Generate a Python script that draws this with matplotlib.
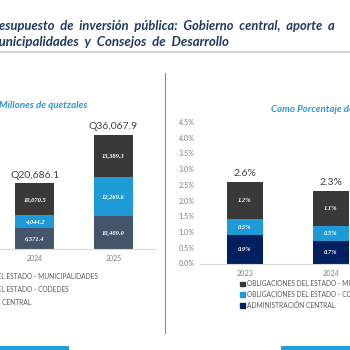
import matplotlib
matplotlib.use('Agg')
import matplotlib.pyplot as plt
from matplotlib.patches import Rectangle, Patch
from matplotlib.lines import Line2D

plt.rcParams['font.family'] = ['Lato', 'DejaVu Sans']

# data
years_q = ['2024', '2025']
admin_q = [6571.4, 10409.0]
codedes_q = [4044.2, 12269.6]
muni_q = [10070.5, 13389.3]

years_pct = ['2023', '2024']
admin_pct = [0.9, 0.7]
codedes_pct = [0.5, 0.5]
muni_pct = [1.2, 1.1]

labels = ['OBLIGACIONES DEL ESTADO - MUNICIPALIDADES',
          'OBLIGACIONES DEL ESTADO - CODEDES',
          'ADMINISTRACIÓN CENTRAL']

c_muni = '#3B3838'
c_codedes = '#1E9BD7'
c_admin_q = '#44546A'
c_admin_pct = '#002060'
title_col = '#203864'
sub_col = '#2E95D3'
gray_txt = '#7F7F7F'

W = H = 350.0


def fx(px):
    return px / W


def fy(py):
    return (H - py) / H


fig = plt.figure(figsize=(3.5, 3.5), dpi=100)

# title + separator
fig.text(fx(-13), fy(25.5), 'Presupuesto  de  inversión  pública:  Gobierno  central,  aporte  a',
         fontsize=9.25, fontweight='bold', fontstyle='italic', color=title_col, va='center')
fig.text(fx(-13), fy(42), 'Municipalidades  y  Consejos  de  Desarrollo',
         fontsize=9.5, fontweight='bold', fontstyle='italic', color=title_col, va='center')
fig.add_artist(Line2D([0, 1], [fy(52), fy(52)], color='#C8C8C8', lw=1.2))

# divider and footer bars
fig.add_artist(Line2D([fx(165), fx(165)], [fy(73), fy(333)], color='#8C8C8C', lw=0.8))
fig.add_artist(Rectangle((fx(0), 0), fx(69), 4 / H, color='#1EA0DC', lw=0))
fig.add_artist(Rectangle((fx(281), 0), fx(69), 4 / H, color='#1EA0DC', lw=0))


def stacked(ax, x, admin, codedes, muni, c_admin, width, fmt):
    b1 = ax.bar(x, admin, width, color=c_admin)
    b2 = ax.bar(x, codedes, width, bottom=admin, color=c_codedes)
    bot = [a + c for a, c in zip(admin, codedes)]
    b3 = ax.bar(x, muni, width, bottom=bot, color=c_muni)
    for bars, vals, bots in [(b1, admin, [0] * len(admin)), (b2, codedes, admin), (b3, muni, bot)]:
        for b, v, s in zip(bars, vals, bots):
            ax.text(b.get_x() + b.get_width() / 2, s + v / 2, fmt(v), ha='center', va='center',
                    color='white', fontsize=4.7, fontweight='bold', fontstyle='italic',
                    family='Liberation Serif')
    return b1, b2, b3


# left panel: millions of quetzales
ax1 = fig.add_axes([fx(-40), fy(248.5), fx(195), 126 / H])
x = range(len(years_q))
stacked(ax1, x, admin_q, codedes_q, muni_q, c_admin_q, 0.497, lambda v: f'{v:,.1f}')
tot_q = [a + c + m for a, c, m in zip(admin_q, codedes_q, muni_q)]
for i, t in enumerate(tot_q):
    ax1.annotate(f'Q{t:,.1f}', (i, t), xytext=(0, 2.5), textcoords='offset points',
                 ha='center', va='bottom', fontsize=7.5, color='#404040')
ax1.set_xlim(-0.955, 1.529)
ax1.set_ylim(0, 40000)
ax1.set_xticks(list(x), years_q)
ax1.set_yticks([])
for s in ['top', 'right', 'left']:
    ax1.spines[s].set_visible(False)
ax1.spines['bottom'].set_color('#D9D9D9')
ax1.tick_params(axis='x', length=0, labelsize=5, colors=gray_txt, pad=5)
ax1.patch.set_alpha(0)
fig.text(fx(87), fy(106), 'Millones de quetzales', ha='right', va='center', fontsize=7,
         fontweight='bold', fontstyle='italic', color=sub_col)

# right panel: percentage
ax2 = fig.add_axes([fx(200), fy(263.5), fx(220), 141.5 / H])
x2 = range(len(years_pct))
stacked(ax2, x2, admin_pct, codedes_pct, muni_pct, c_admin_pct, 0.419, lambda v: f'{v:.1f}%')
tot_p = [a + c + m for a, c, m in zip(admin_pct, codedes_pct, muni_pct)]
for i, t in enumerate(tot_p):
    ax2.annotate(f'{t:.1f}%', (i, t), xytext=(0, 3), textcoords='offset points',
                 ha='center', va='bottom', fontsize=7.5, color='#404040')
ax2.set_xlim(-0.523, 2.035)
ax2.set_ylim(0, 4.5)
ax2.set_xticks(list(x2), years_pct)
ax2.set_yticks([i * 0.5 for i in range(10)], [f'{i * 0.5:.1f}%' for i in range(10)])
for s in ['top', 'right', 'left']:
    ax2.spines[s].set_visible(False)
ax2.spines['bottom'].set_color('#D9D9D9')
ax2.tick_params(axis='both', length=0, labelsize=5.2, colors=gray_txt)
ax2.tick_params(axis='y', pad=4)
ax2.tick_params(axis='x', pad=5)
ax2.patch.set_alpha(0)
fig.text(fx(271), fy(109), 'Como Porcentaje del PIB', ha='left', va='center', fontsize=7,
         fontweight='bold', fontstyle='italic', color=sub_col)

# legends
h_q = [Patch(color=c_muni), Patch(color=c_codedes), Patch(color=c_admin_q)]
h_p = [Patch(color=c_muni), Patch(color=c_codedes), Patch(color=c_admin_pct)]
fig.legend(h_q, labels, loc='upper left', bbox_to_anchor=(fx(-67), fy(269.5)), frameon=False,
           fontsize=4.8, labelcolor='#595959', handlelength=0.7, handleheight=0.7,
           handletextpad=0.3, labelspacing=0.9, borderpad=0)
fig.legend(h_p, labels, loc='upper left', bbox_to_anchor=(fx(237), fy(277)), frameon=False,
           fontsize=4.8, labelcolor='#595959', handlelength=0.7, handleheight=0.7,
           handletextpad=0.3, labelspacing=0.55, borderpad=0)

fig.savefig('out.png', dpi=100)
